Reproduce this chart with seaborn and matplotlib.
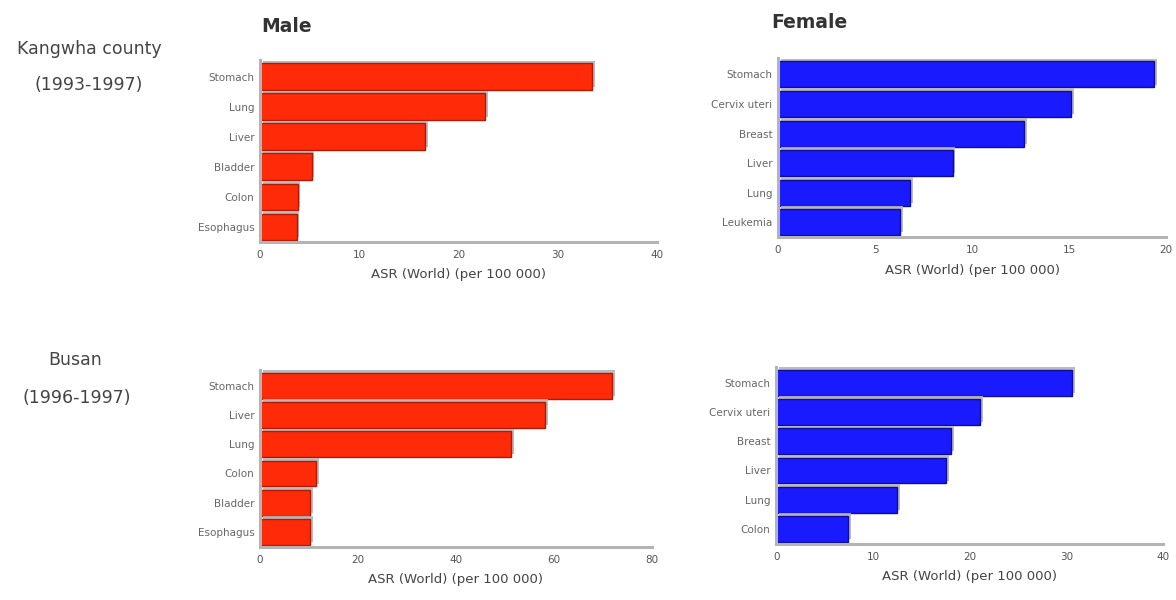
import matplotlib
matplotlib.use("Agg")
import matplotlib.pyplot as plt
import matplotlib.patheffects as pe
import seaborn as sns
import pandas as pd

# ---- data ----
kw_male_sites = ["Stomach", "Lung", "Liver", "Bladder", "Colon", "Esophagus"]
kw_male_asr = [33.4, 22.7, 16.6, 5.2, 3.8, 3.7]
kw_female_sites = ["Stomach", "Cervix uteri", "Breast", "Liver", "Lung", "Leukemia"]
kw_female_asr = [19.4, 15.1, 12.7, 9.0, 6.8, 6.3]
bs_male_sites = ["Stomach", "Liver", "Lung", "Colon", "Bladder", "Esophagus"]
bs_male_asr = [72.0, 58.3, 51.3, 11.5, 10.2, 10.2]
bs_female_sites = ["Stomach", "Cervix uteri", "Breast", "Liver", "Lung", "Colon"]
bs_female_asr = [30.6, 21.1, 18.1, 17.6, 12.5, 7.4]

region_labels = [("Kangwha county", "(1993-1997)"), ("Busan", "(1996-1997)")]
sex_titles = ["Male", "Female"]
x_label = "ASR (World) (per 100 000)"
x_ticks = {"tl": [0, 10, 20, 30, 40], "tr": [0, 5, 10, 15, 20],
           "bl": [0, 20, 40, 60, 80], "br": [0, 10, 20, 30, 40]}

sns.set_theme(style="white")
plt.rcParams["font.family"] = ["DejaVu Sans"]

fig = plt.figure(figsize=(11.76, 6.0), dpi=100)
fig.patch.set_facecolor("white")

RED = "#FF2A08"
BLUE = "#1A1AFF"
GRAY = "#B4B4B4"

panels = [
    ("tl", [0.221, 0.597, 0.338, 0.303], kw_male_sites, kw_male_asr, RED, "#B01A05"),
    ("tr", [0.6616, 0.605, 0.330, 0.298], kw_female_sites, kw_female_asr, BLUE, "#0D0D99"),
    ("bl", [0.221, 0.089, 0.333, 0.295], bs_male_sites, bs_male_asr, RED, "#B01A05"),
    ("br", [0.660, 0.094, 0.329, 0.295], bs_female_sites, bs_female_asr, BLUE, "#0D0D99"),
]

for key, rect, sites, vals, col, edge in panels:
    ax = fig.add_axes(rect)
    df = pd.DataFrame({"site": sites, "asr": vals})
    sns.barplot(data=df, y="site", x="asr", orient="h", color=col, width=0.88,
                saturation=1, edgecolor=edge, linewidth=1.0, ax=ax)
    for p in ax.patches:
        p.set_path_effects([pe.SimplePatchShadow(offset=(2, 2), shadow_rgbFace=GRAY, alpha=0.9),
                            pe.Normal()])
    ticks = x_ticks[key]
    ax.set_xlim(ticks[0], ticks[-1])
    ax.set_xticks(ticks)
    ax.set_xticklabels([str(t) for t in ticks], fontsize=7.5, color="#555555")
    ax.set_ylim(5.5, -0.55)
    ax.set_ylabel("")
    ax.set_xlabel(x_label, fontsize=9.5, color="#444444", labelpad=6)
    ax.tick_params(axis="y", labelsize=7.5, labelcolor="#666666", length=0, pad=4)
    ax.tick_params(axis="x", length=3, width=1, color=GRAY, direction="out", pad=3)
    for s in ["top", "right"]:
        ax.spines[s].set_visible(False)
    for s in ["left", "bottom"]:
        ax.spines[s].set_color(GRAY)
        ax.spines[s].set_linewidth(2.2)
    ax.set_facecolor("white")

# column titles
fig.text(0.222, 0.955, sex_titles[0], fontsize=13.5, fontweight="bold", color="#333333", ha="left", va="center")
fig.text(0.656, 0.963, sex_titles[1], fontsize=13.5, fontweight="bold", color="#333333", ha="left", va="center")

# row labels
fig.text(0.076, 0.918, region_labels[0][0], fontsize=12.5, color="#444444", ha="center", va="center")
fig.text(0.075, 0.858, region_labels[0][1], fontsize=12.5, color="#444444", ha="center", va="center")
fig.text(0.064, 0.400, region_labels[1][0], fontsize=12.5, color="#444444", ha="center", va="center")
fig.text(0.065, 0.337, region_labels[1][1], fontsize=12.5, color="#444444", ha="center", va="center")

fig.savefig("out.png", dpi=100, facecolor="white")
